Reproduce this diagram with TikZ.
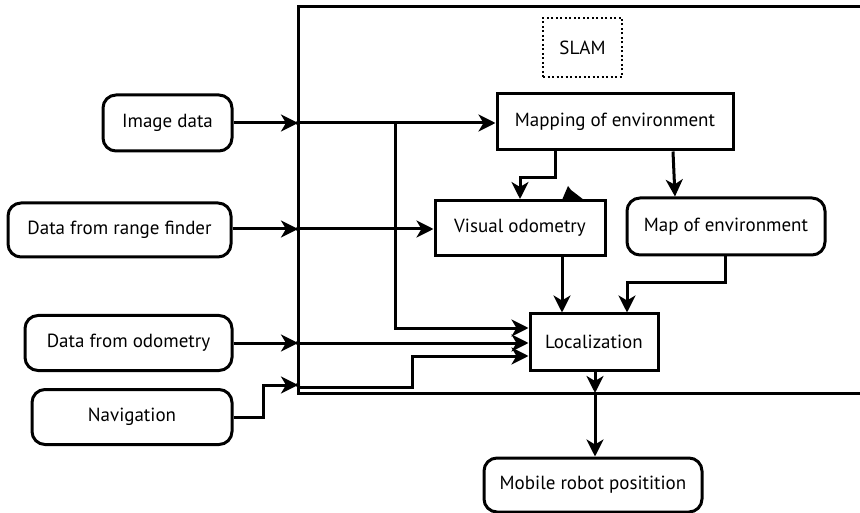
\documentclass[tikz,border=0pt]{standalone}
\usepackage{fontspec}
\setmainfont{PT Sans}
\usetikzlibrary{arrows.meta,calc}
\begin{document}
\begin{tikzpicture}[x=1pt,y=-1pt,
  line width=3pt,
  every node/.style={font=\fontsize{19}{21}\selectfont, inner sep=0pt},
  sq/.style={draw, line width=3pt},
  rnd/.style={draw, line width=3pt, rounded corners=13pt},
  arr/.style={-{Stealth[length=17pt,width=17pt,inset=5pt]}, line width=3pt},
  dotbox/.style={draw, line width=2pt, dash pattern=on 2pt off 2.5pt}]
\useasboundingbox (0,0) rectangle (860,513);
% SLAM frame
\draw[line width=3pt] (860,7) -- (298,7) -- (298,393) -- (860,393);
% nodes
\node[rnd, minimum width=129pt, minimum height=56pt] (img) at (167.5,123) {Image data};
\node[rnd, minimum width=223pt, minimum height=54pt] (rng) at (119.5,230) {Data from range finder};
\node[rnd, minimum width=207pt, minimum height=55pt] (odo) at (128.5,343) {Data from odometry};
\node[rnd, minimum width=200pt, minimum height=55pt] (nav) at (132,417) {Navigation};
\node[sq, minimum width=236pt, minimum height=56pt] (map) at (615,122) {Mapping of environment};
\node[sq, minimum width=170pt, minimum height=55pt] (vo) at (520,228) {Visual odometry};
\node[rnd, minimum width=198pt, minimum height=57pt] (menv) at (726,226.5) {Map of environment};
\node[sq, minimum width=128pt, minimum height=56pt] (loc) at (594,342) {Localization};
\node[rnd, minimum width=218pt, minimum height=54pt] (mob) at (593,485) {Mobile robot positition};
\node[dotbox, minimum width=79pt, minimum height=59pt] (slam) at (582.5,47.5) {SLAM};
% frame junctions
\coordinate (fimg) at (298,123);
\coordinate (frng) at (298,229);
\coordinate (fodo) at (298,343);
\coordinate (fnav) at (298,385);
\coordinate (fbot) at (595,393);
\coordinate (br) at (395,123);
% inputs to frame
\draw[arr] (img.east |- fimg) -- (fimg);
\draw[arr] (rng.east |- frng) -- (frng);
\draw[arr] (odo.east |- fodo) -- (fodo);
\draw[arr] (nav.east) -- (263,417) -- (263,385) -- (fnav);
% inside frame
\draw[arr] (fimg) -- (fimg -| map.west);
\draw[arr] (br) -- (395,328) -- (loc.west |- 0,328);
\draw[arr] (frng) -- (frng -| vo.west);
\draw[arr] (fodo) -- (fodo -| loc.west);
\draw[arr] (298,387) -- (412,387) -- (412,356) -- (loc.west |- 0,356);
\draw[arr] (map.south -| 555,0) -- (555,178) -- (520,178) -- (vo.north -| 520,0);
\draw[arr] (map.south -| 673,0) -- (menv.north -| 675,0);
\draw[arr] (vo.south -| 562,0) -- (loc.north -| 562,0);
\draw[arr] (menv.south -| 725,0) -- (725,283) -- (627,283) -- (loc.north -| 627,0);
\draw[arr] (loc.south -| fbot) -- (fbot);
\draw[arr] (fbot) -- (mob.north -| fbot);
% stray arrowhead on Visual odometry
\fill (562,200) -- (568,186) -- (571,190) -- (584,200) -- cycle;
% junction dots
\foreach \p in {fimg,frng,fodo,fnav}{\fill (\p) circle (2.2pt);}
\end{tikzpicture}
\end{document}
